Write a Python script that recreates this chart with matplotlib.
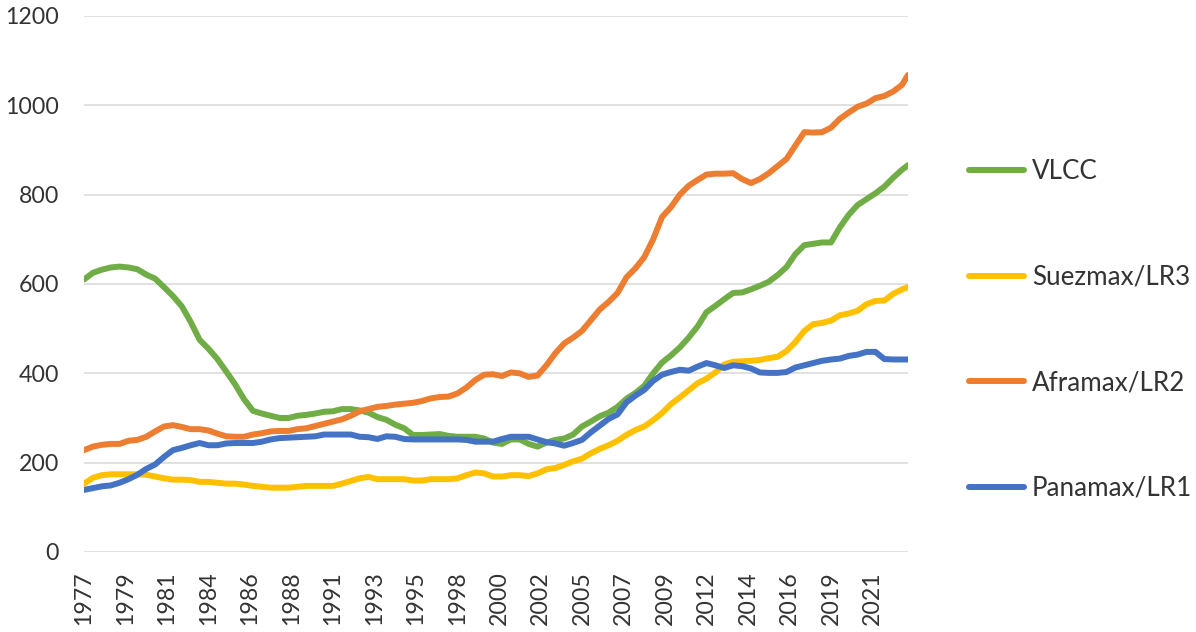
import numpy as np
import matplotlib
matplotlib.use("Agg")
import matplotlib.pyplot as plt

# half-year samples, Jan 1977 .. spring 2023
years = np.append(np.arange(1977, 2023.01, 0.5), 2023.33)

vlcc = [610, 625, 632, 637, 639, 637, 633, 621, 612, 593,
        573, 550, 515, 475, 455, 432, 404, 375, 342, 316,
        310, 305, 300, 300, 305, 307, 310, 314, 315, 320,
        320, 317, 312, 302, 296, 285, 277, 262, 262, 263,
        264, 260, 258, 258, 258, 254, 245, 242, 252, 252,
        242, 236, 245, 251, 254, 263, 281, 292, 304, 312,
        325, 343, 356, 372, 400, 424, 440, 458, 480, 505,
        537, 551, 566, 580, 581, 588, 596, 605, 620, 638,
        667, 687, 690, 693, 693, 727, 755, 777, 790, 803,
        818, 838, 856, 866]

suezmax = [153, 166, 172, 174, 174, 174, 174, 173, 169, 165,
           162, 162, 161, 157, 157, 155, 153, 153, 151, 148,
           146, 144, 144, 144, 146, 148, 148, 148, 148, 153,
           159, 165, 168, 163, 163, 163, 163, 160, 160, 163,
           163, 163, 165, 172, 178, 176, 169, 169, 172, 172,
           170, 176, 185, 188, 195, 203, 209, 221, 231, 239,
           249, 262, 273, 281, 295, 311, 331, 346, 362, 378,
           388, 402, 420, 426, 427, 428, 430, 434, 437, 450,
           470, 495, 510, 513, 518, 530, 534, 540, 555, 562,
           563, 578, 588, 593]

aframax = [228, 236, 240, 242, 242, 249, 251, 258, 270, 281,
           284, 280, 275, 275, 272, 265, 259, 258, 258, 263,
           266, 270, 271, 271, 275, 277, 282, 287, 292, 297,
           305, 315, 320, 325, 327, 330, 332, 334, 338, 344,
           347, 348, 355, 368, 385, 397, 398, 394, 402, 400,
           392, 395, 418, 445, 467, 480, 495, 519, 543, 560,
           580, 615, 635, 660, 700, 750, 772, 800, 820, 833,
           845, 847, 847, 848, 835, 826, 835, 848, 864, 880,
           910, 940, 939, 940, 950, 970, 984, 997, 1004, 1016,
           1021, 1031, 1046, 1068]

panamax = [139, 143, 147, 149, 155, 163, 173, 186, 196, 213,
           228, 233, 239, 244, 239, 239, 243, 244, 244, 244,
           247, 252, 255, 256, 257, 258, 259, 263, 263, 263,
           263, 258, 257, 253, 259, 258, 253, 252, 252, 252,
           252, 252, 252, 251, 247, 247, 247, 253, 258, 258,
           258, 252, 246, 243, 238, 244, 251, 268, 283, 298,
           308, 335, 350, 363, 383, 397, 403, 408, 406, 415,
           423, 418, 412, 418, 416, 411, 402, 401, 401, 403,
           413, 418, 423, 428, 431, 433, 439, 442, 448, 448,
           432, 431, 431, 431]

series_names = ["VLCC", "Suezmax/LR3", "Aframax/LR2", "Panamax/LR1"]
series_colors = ["#70AD47", "#FFC000", "#ED7D31", "#4472C4"]

# category labels every 28 months, as in the source sheet
tick_labels = ["1977", "1979", "1981", "1984", "1986", "1988", "1991",
               "1993", "1995", "1998", "2000", "2002", "2005", "2007",
               "2009", "2012", "2014", "2016", "2019", "2021"]
tick_pos = 1977 + np.arange(len(tick_labels)) * 28 / 12

plt.rcParams['font.family'] = ['Lato', 'DejaVu Sans']
text_col = "#333333"

fig = plt.figure(figsize=(11.96, 6.32), dpi=100)
ax = fig.add_axes([84 / 1196, 1 - 552 / 632, (908 - 84) / 1196, (552 - 16) / 632])

for vals, name, col in zip([vlcc, suezmax, aframax, panamax], series_names, series_colors):
    ax.plot(years, vals, color=col, lw=4.3, label=name,
            solid_joinstyle='round', solid_capstyle='round')

ax.set_xlim(1977, 2023.33)
ax.set_ylim(0, 1200)
ax.set_yticks(range(0, 1201, 200))
ax.grid(axis='y', color='#D9D9D9', lw=1.1)
ax.set_axisbelow(True)
for s in ax.spines.values():
    s.set_visible(False)

ax.set_xticks(tick_pos)
ax.set_xticklabels(tick_labels, rotation=90)
ax.tick_params(axis='both', length=0, labelsize=16.7, colors=text_col)
ax.tick_params(axis='y', pad=18)
ax.tick_params(axis='x', pad=14)

leg = fig.legend(loc='center left', bbox_to_anchor=(969 / 1196, 1 - 330 / 632),
                 frameon=False, fontsize=18.7, handlelength=2.12, handletextpad=0.3,
                 labelspacing=3.1, borderpad=0, borderaxespad=0)
for t in leg.get_texts():
    t.set_color(text_col)

plt.savefig("out.png", dpi=100)
